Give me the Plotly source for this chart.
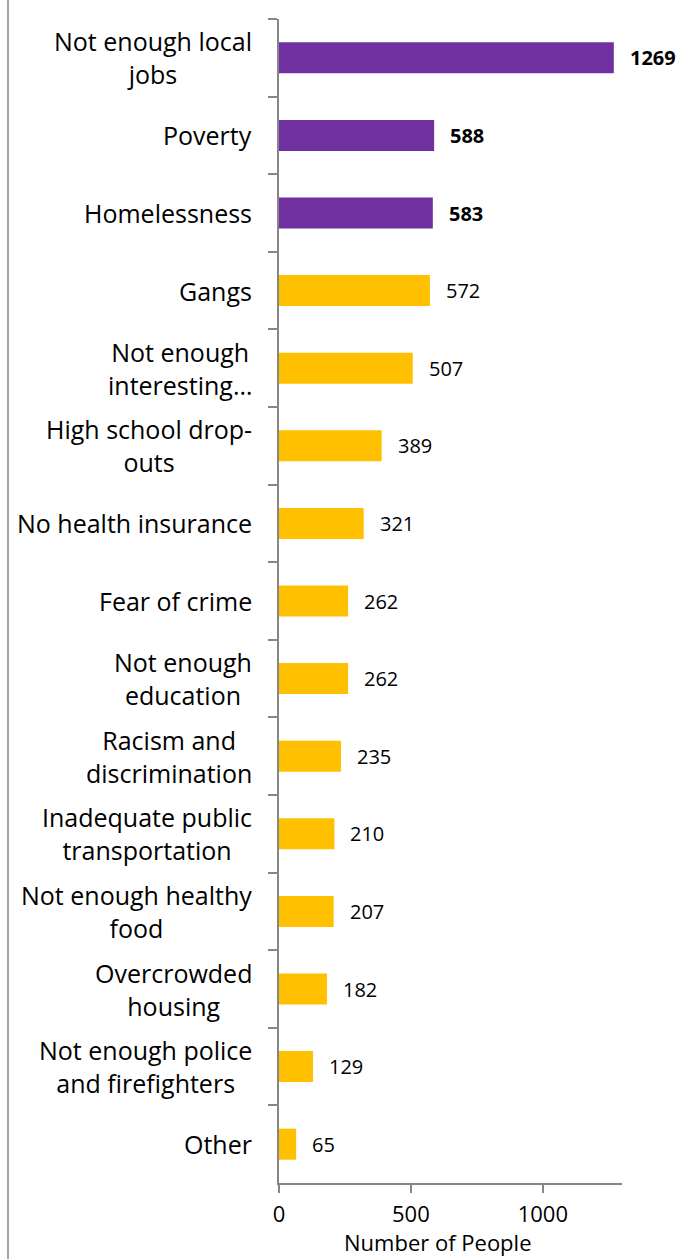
import plotly.graph_objects as go

categories = [
    "Not enough local<br>jobs", "Poverty", "Homelessness", "Gangs",
    "Not enough<br>interesting…", "High school drop-<br>outs", "No health insurance",
    "Fear of crime", "Not enough<br>education", "Racism and<br>discrimination",
    "Inadequate public<br>transportation", "Not enough healthy<br>food",
    "Overcrowded<br>housing", "Not enough police<br>and firefighters", "Other",
]
values = [1269, 588, 583, 572, 507, 389, 321, 262, 262, 235, 210, 207, 182, 129, 65]
highlight = [True, True, True] + [False] * 12
x_title = "Number of People"

PURPLE = "#7030A0"
GOLD = "#FFC000"
AXIS = "#868686"
FONT = "Open Sans"

W, H = 692, 1259
ML, MR, MT, MB = 279, 70, 19, 76
plot_w = W - ML - MR
plot_h = H - MT - MB

colors = [PURPLE if h else GOLD for h in highlight]

fig = go.Figure(go.Bar(
    x=values, y=categories, orientation="h",
    marker=dict(color=colors, line=dict(width=0)),
    hoverinfo="skip",
))

annotations = []
for c, v, h in zip(categories, values, highlight):
    annotations.append(dict(
        x=v, y=c, xref="x", yref="y", text=(f"<b>{v}</b>" if h else str(v)),
        showarrow=False, xanchor="left", xshift=14,
        font=dict(family=FONT, size=20, color="#000000"),
    ))
    annotations.append(dict(
        x=0, y=c, xref="paper", yref="y", text=c, showarrow=False,
        xanchor="right", align="center", xshift=-25,
        font=dict(family=FONT, size=25, color="#000000"),
    ))
annotations.append(dict(
    x=(437 - ML) / plot_w, y=-(1242 - MT - plot_h) / plot_h, xref="paper", yref="paper",
    text=x_title, showarrow=False, xanchor="center", yanchor="middle",
    font=dict(family=FONT, size=22, color="#000000"),
))

fig.update_layout(
    width=W, height=H,
    margin=dict(l=ML, r=MR, t=MT, b=MB, pad=0),
    paper_bgcolor="white", plot_bgcolor="white",
    bargap=0.6, showlegend=False,
    annotations=annotations,
    shapes=[dict(type="line", xref="paper", yref="paper",
                 x0=(8 - ML) / plot_w, x1=(8 - ML) / plot_w,
                 y0=-MB / plot_h, y1=1 + MT / plot_h,
                 line=dict(color=AXIS, width=1.5))],
    xaxis=dict(
        range=[0, 1300], tickvals=[0, 500, 1000], ticktext=["0", "500", "1000"],
        showgrid=False, zeroline=False, showline=True, linecolor=AXIS, linewidth=1.5,
        ticks="outside", ticklen=8, tickcolor=AXIS, tickwidth=1.5, ticklabelstandoff=3,
        tickfont=dict(family=FONT, size=22, color="#000000"),
    ),
    yaxis=dict(
        autorange="reversed", showticklabels=False, tickson="boundaries",
        ticks="outside", ticklen=9, tickcolor=AXIS, tickwidth=1.5,
        showgrid=False, zeroline=False, showline=True, linecolor=AXIS, linewidth=1.5,
    ),
)

fig.write_html("out.html")
